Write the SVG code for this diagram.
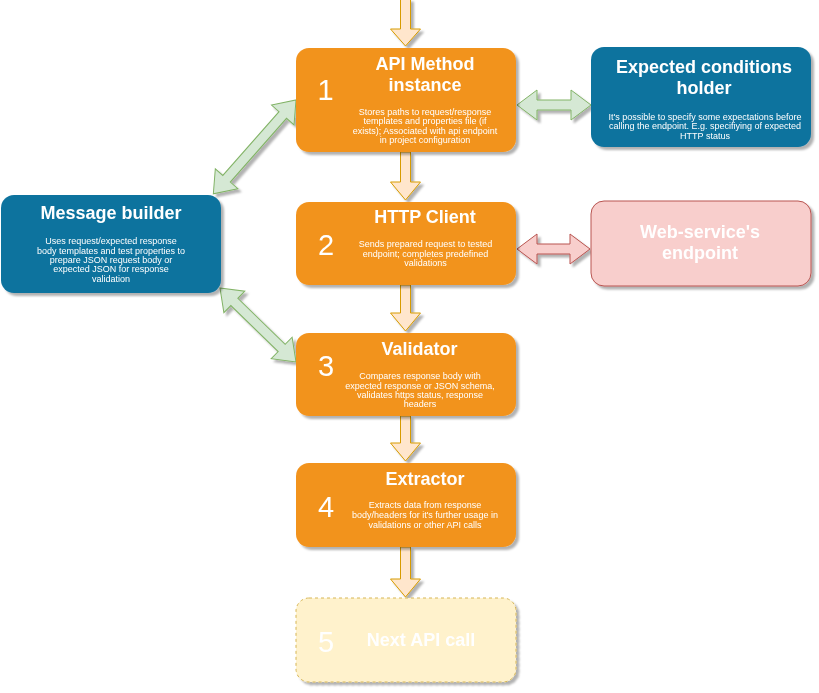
<svg xmlns="http://www.w3.org/2000/svg" width="819" height="693" viewBox="0 0 819 693">
<defs>
<filter id="sh" x="-10%" y="-10%" width="130%" height="130%">
<feDropShadow dx="3" dy="3" stdDeviation="1.2" flood-color="#000" flood-opacity="0.3"/>
</filter>
</defs>
<style>
text{font-family:"Liberation Sans",Arial,Helvetica,sans-serif;fill:#fff;text-anchor:middle}
.t{font-size:18px;font-weight:bold}
.d{font-size:9px}
.n{font-size:29px}
.orange{fill:#F2931E}
.blue{fill:#10739E}
.pink{fill:#F8CECC;stroke:#B85450;stroke-width:1}
.next{fill:#FFF2CC;stroke:#D6B656;stroke-width:1;stroke-dasharray:3 3}
.down{fill:#FFE6CC;stroke:#D79B00;stroke-width:1}
.green{fill:#D5E8D4;stroke:#82B366;stroke-width:1}
.red{fill:#F8CECC;stroke:#B85450;stroke-width:1}
</style>
<g id="connectors" filter="url(#sh)">
<polygon class="down" points="400.5,-1 410.5,-1 410.5,29 420.5,29 405.5,46 390.5,29 400.5,29"/>
<polygon class="down" points="400.5,152 410.5,152 410.5,182 420.5,182 405.5,200 390.5,182 400.5,182"/>
<polygon class="down" points="400.5,285 410.5,285 410.5,313 420.5,313 405.5,331 390.5,313 400.5,313"/>
<polygon class="down" points="400.5,416 410.5,416 410.5,443 420.5,443 405.5,461 390.5,443 400.5,443"/>
<polygon class="down" points="400.5,547 410.5,547 410.5,579 420.5,579 405.5,597 390.5,579 400.5,579"/>
<polygon class="green" transform="translate(517,105)" points="0,0 20,-15 20,-5 54,-5 54,-15 74,0 54,15 54,5 20,5 20,15"/>
<polygon class="red" transform="translate(517,249)" points="0,0 20,-15 20,-5 53,-5 53,-15 73,0 53,15 53,5 20,5 20,15"/>
<polygon class="green" transform="translate(296,100) rotate(131.4)" points="0,0 20,-15 20,-5 105,-5 105,-15 125,0 105,15 105,5 20,5 20,15"/>
<polygon class="green" transform="translate(220,288) rotate(44.2)" points="0,0 20,-15 20,-5 86,-5 86,-15 106,0 86,15 86,5 20,5 20,15"/>
</g>
<g id="node1">
<rect class="orange" x="296" y="48" width="220" height="104" rx="13" filter="url(#sh)"/>
<text class="n" x="325.5" y="100">1</text>
<text class="t" x="425" y="70">API Method</text>
<text class="t" x="425" y="90.7">instance</text>
<text class="d" x="425" y="115">Stores paths to request/response</text>
<text class="d" x="425" y="124.3">templates and properties file (if</text>
<text class="d" x="425" y="133.6">exists); Associated with api endpoint</text>
<text class="d" x="425" y="142.9">in project configuration</text>
</g>
<g id="expected">
<rect class="blue" x="591" y="47" width="220" height="100" rx="13" filter="url(#sh)"/>
<text class="t" x="704" y="73.3">Expected conditions</text>
<text class="t" x="704" y="94">holder</text>
<text class="d" x="705" y="120">It's possible to specify some expectations before</text>
<text class="d" x="705" y="129.3">calling the endpoint. E.g. specifiying of expected</text>
<text class="d" x="705" y="138.6">HTTP status</text>
</g>
<g id="message-builder">
<rect class="blue" x="1" y="195" width="220" height="98" rx="13" filter="url(#sh)"/>
<text class="t" x="111" y="219">Message builder</text>
<text class="d" x="111" y="244.3">Uses request/expected response</text>
<text class="d" x="111" y="253.6">body templates and test properties to</text>
<text class="d" x="111" y="262.9">prepare JSON request body or</text>
<text class="d" x="111" y="272.2">expected JSON for response</text>
<text class="d" x="111" y="281.5">validation</text>
</g>
<g id="node2">
<rect class="orange" x="296" y="202" width="220" height="83" rx="13" filter="url(#sh)"/>
<text class="n" x="326" y="255">2</text>
<text class="t" x="425" y="223">HTTP Client</text>
<text class="d" x="425.5" y="247">Sends prepared request to tested</text>
<text class="d" x="425.5" y="256.6">endpoint; completes predefined</text>
<text class="d" x="425.5" y="266.2">validations</text>
</g>
<g id="endpoint">
<rect class="pink" x="591" y="201" width="220" height="85" rx="13" filter="url(#sh)"/>
<text class="t" x="700" y="238.3">Web-service's</text>
<text class="t" x="700" y="258.5">endpoint</text>
</g>
<g id="node3">
<rect class="orange" x="296" y="333" width="220" height="83" rx="13" filter="url(#sh)"/>
<text class="n" x="326" y="376">3</text>
<text class="t" x="419.5" y="355">Validator</text>
<text class="d" x="420" y="379.3">Compares response body with</text>
<text class="d" x="420" y="388.6">expected response or JSON schema,</text>
<text class="d" x="420" y="397.9">validates https status, response</text>
<text class="d" x="420" y="407.2">headers</text>
</g>
<g id="node4">
<rect class="orange" x="296" y="463" width="220" height="84" rx="13" filter="url(#sh)"/>
<text class="n" x="326" y="516.7">4</text>
<text class="t" x="425" y="485">Extractor</text>
<text class="d" x="425" y="508">Extracts data from response</text>
<text class="d" x="425" y="518">body/headers for it's further usage in</text>
<text class="d" x="425" y="528">validations or other API calls</text>
</g>
<g id="node5">
<rect class="next" x="296" y="598" width="220" height="84" rx="13" filter="url(#sh)"/>
<text class="n" x="326" y="651.7">5</text>
<text class="t" x="421" y="646">Next API call</text>
</g>
</svg>
